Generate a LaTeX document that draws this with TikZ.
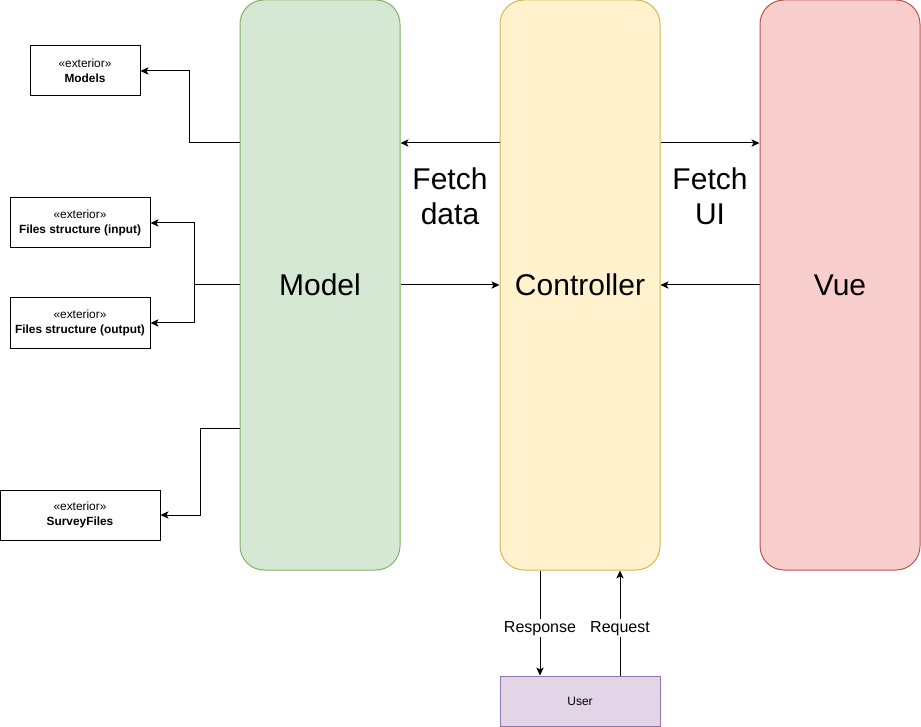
\documentclass[tikz,border=0pt]{standalone}
\usepackage{fontspec}
\setmainfont{Liberation Sans}
\usetikzlibrary{arrows.meta,calc}
\definecolor{gfill}{HTML}{D5E8D4}\definecolor{gline}{HTML}{82B366}
\definecolor{yfill}{HTML}{FFF2CC}\definecolor{yline}{HTML}{D6B656}
\definecolor{rfill}{HTML}{F8CECC}\definecolor{rline}{HTML}{B85450}
\definecolor{pfill}{HTML}{E1D5E7}\definecolor{pline}{HTML}{9673A6}
\tikzset{
  layer/.style={draw, rounded corners=18pt, minimum width=120pt, minimum height=427.5pt, inner sep=0pt, line width=0.75pt, font=\fontsize{22.5}{27}\selectfont},
  ext/.style={draw, line width=0.75pt, minimum height=37.5pt, inner sep=0pt, align=center, font=\fontsize{8.9}{11}\selectfont},
  conn/.style={line width=0.75pt, -{Stealth[length=6pt,width=5.5pt,inset=1.5pt]}},
  plain/.style={line width=0.75pt},
  bigtxt/.style={align=center, font=\fontsize{22.5}{26.5}\selectfont},
  lbl/.style={fill=white, inner sep=1.5pt, font=\fontsize{12}{14}\selectfont}
}
\begin{document}
\begin{tikzpicture}[x=0.75pt,y=-0.75pt]
\useasboundingbox (0,0) rectangle (921,727);
\node[layer, fill=gfill, draw=gline] (model) at (320,285) {Model};
\node[layer, fill=yfill, draw=yline] (ctrl) at (580,285) {Controller};
\node[layer, fill=rfill, draw=rline] (vue) at (840,285) {Vue};
\node[draw=pline, fill=pfill, line width=0.75pt, minimum width=120pt, minimum height=37.5pt, inner sep=0pt, font=\fontsize{9}{11}\selectfont] (user) at (580,701) {User};

\node[ext, minimum width=82.5pt] (models) at (85,71) {«exterior»\\\textbf{Models}};
\node[ext, minimum width=105pt] (fin) at (80,223) {«exterior»\\\textbf{Files structure (input)}};
\node[ext, minimum width=105pt] (fout) at (80,323) {«exterior»\\\textbf{Files structure (output)}};
\node[ext, minimum width=120pt] (sf) at (80,515) {«exterior»\\\textbf{SurveyFiles}};

\node[bigtxt] (fd) at (450,196) {Fetch\\data};
\node[bigtxt] (fu) at (710,196) {Fetch\\UI};

% Model to externals
\draw[conn] ($(model.west)+(0,-142)$) -- ++(-50,0) |- (models.east);
\draw[plain] (model.west) -- ++(-45,0) coordinate (j);
\draw[conn] (j) |- (fin.east);
\draw[conn] (j) |- (fout.east);
\draw[conn] ($(model.west)+(0,143)$) -- ++(-39,0) |- (sf.east);

% Layers
\draw[conn] ($(ctrl.west)+(0,-142)$) -- ($(model.east)+(0,-142)$);
\draw[conn] ($(ctrl.east)+(0,-142)$) -- ($(vue.west)+(0,-142)$);
\draw[conn] (model.east) -- (ctrl.west);
\draw[conn] (vue.west) -- (ctrl.east);

% User
\draw[conn] ($(ctrl.south)+(-40,0)$) -- node[lbl, pos=0.55] (resp) {Response} ($(user.north)+(-40,0)$);
\draw[conn] ($(user.north)+(40,0)$) -- node[lbl, pos=0.45] (req) {Request} ($(ctrl.south)+(40,0)$);
\end{tikzpicture}
\end{document}
